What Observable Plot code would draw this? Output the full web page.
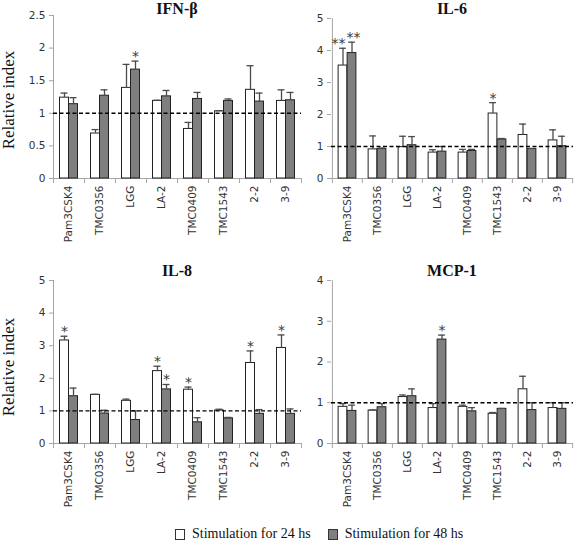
<!DOCTYPE html>
<html>
<head>
<meta charset="utf-8">
<script src="https://cdn.jsdelivr.net/npm/d3@7"></script>
<script src="https://cdn.jsdelivr.net/npm/@observablehq/plot@0.6"></script>
<style>
  body { margin: 0; background: #fff; }
  #root { position: relative; width: 578px; height: 541px; background: #fff; overflow: hidden; }
  .title { position: absolute; text-align: center; font-family: "Liberation Serif", serif; font-weight: bold; font-size: 16px; line-height: 16px; color: #111; }
  .ylab { position: absolute; width: 140px; text-align: center; font-family: "Liberation Serif", serif; font-size: 17px; line-height: 18px; color: #111; transform: rotate(-90deg); }
  .legend { position: absolute; left: 175px; top: 527px; display: flex; align-items: center; font-family: "Liberation Serif", serif; font-size: 14px; line-height: 14px; color: #111; }
  .legend .sw { width: 10px; height: 11px; border: 1px solid #333; box-sizing: border-box; margin-right: 7px; }
  .legend .item { display: flex; align-items: center; margin-right: 17px; }
</style>
</head>
<body>
<div id="root"></div>
<script>
// ---------- data ----------
const categories = ["Pam3CSK4", "TMC0356", "LGG", "LA-2", "TMC0409", "TMC1543", "2-2", "3-9"];
const seriesNames = ["Stimulation for 24 hs", "Stimulation for 48 hs"];
const panelTitles = ["IFN-β", "IL-6", "IL-8", "MCP-1"];

const ifnMean24 = [1.24, 0.69, 1.39, 1.19, 0.76, 1.03, 1.36, 1.19];
const ifnErr24  = [0.07, 0.06, 0.36, 0.01, 0.10, 0.01, 0.37, 0.17];
const ifnMean48 = [1.14, 1.27, 1.67, 1.26, 1.22, 1.19, 1.18, 1.20];
const ifnErr48  = [0.10, 0.09, 0.13, 0.09, 0.10, 0.03, 0.13, 0.12];
const ifnStar24 = ["", "", "", "", "", "", "", ""];
const ifnStar48 = ["", "", "*", "", "", "", "", ""];
const ifnTicks = [0, 0.5, 1, 1.5, 2, 2.5];

const il6Mean24 = [3.53, 0.91, 0.98, 0.81, 0.81, 2.03, 1.36, 1.19];
const il6Err24  = [0.54, 0.42, 0.34, 0.09, 0.10, 0.34, 0.34, 0.33];
const il6Mean48 = [3.92, 0.92, 1.04, 0.84, 0.86, 1.22, 0.92, 1.01];
const il6Err48  = [0.34, 0.03, 0.27, 0.16, 0.05, 0.03, 0.02, 0.31];
const il6Star24 = ["**", "", "", "", "", "*", "", ""];
const il6Star48 = ["**", "", "", "", "", "", "", ""];
const il6Ticks = [0, 1, 2, 3, 4, 5];

const il8Mean24 = [3.16, 1.49, 1.31, 2.22, 1.65, 1.01, 2.47, 2.93];
const il8Err24  = [0.13, 0.02, 0.05, 0.15, 0.08, 0.04, 0.37, 0.40];
const il8Mean48 = [1.45, 0.92, 0.72, 1.66, 0.65, 0.77, 0.91, 0.91];
const il8Err48  = [0.25, 0.10, 0.28, 0.15, 0.14, 0.03, 0.13, 0.15];
const il8Star24 = ["*", "", "", "*", "*", "", "*", "*"];
const il8Star48 = ["", "", "", "*", "", "", "", ""];
const il8Ticks = [0, 1, 2, 3, 4, 5];

const mcpMean24 = [0.90, 0.81, 1.14, 0.87, 0.90, 0.73, 1.33, 0.87];
const mcpErr24  = [0.08, 0.01, 0.05, 0.11, 0.04, 0.03, 0.32, 0.13];
const mcpMean48 = [0.80, 0.89, 1.16, 2.55, 0.79, 0.85, 0.82, 0.85];
const mcpErr48  = [0.14, 0.09, 0.18, 0.11, 0.09, 0.01, 0.18, 0.15];
const mcpStar24 = ["", "", "", "", "", "", "", ""];
const mcpStar48 = ["", "", "", "*", "", "", "", ""];
const mcpTicks = [0, 1, 2, 3, 4];

// ---------- drawing ----------
const root = document.getElementById("root");
const axisGray = "#a6a6a6";
const errColor = "#4a4a4a";

function makePanel(cfg) {
  const { m24, e24, m48, e48, s24, s48, ticks, left, top, width, height,
          marginLeft, marginRight, marginTop, marginBottom, title } = cfg;
  const rows24 = categories.map((c, i) => ({ cat: c, series: seriesNames[0], mean: m24[i], err: e24[i], star: s24[i] }));
  const rows48 = categories.map((c, i) => ({ cat: c, series: seriesNames[1], mean: m48[i], err: e48[i], star: s48[i] }));
  const yMax = ticks[ticks.length - 1];
  const bw = (width - marginLeft - marginRight) / categories.length;
  const half = bw / 2;
  const barW = 9;
  const capHalf = 3.5;
  const starStyle = { x: "cat", y: d => d.mean + d.err, text: "star", fontSize: 14, fill: "#3a3a3a", fontFamily: "DejaVu Sans", lineAnchor: "bottom", dy: 0 };

  const plot = Plot.plot({
    width, height, marginLeft, marginRight, marginTop, marginBottom,
    style: { fontFamily: "DejaVu Sans", fontSize: "10.5px", color: "#333", background: "transparent", overflow: "visible" },
    x: { domain: categories, padding: 0, label: null },
    y: { domain: [0, yMax], label: null },
    marks: [
      Plot.ruleY([0], { stroke: axisGray }),
      Plot.ruleX([categories[0]], { y1: 0, y2: yMax, dx: -half, stroke: axisGray }),
      Plot.ruleX(categories, { y1: 0, y2: 0, insetBottom: -5, dx: -half, stroke: axisGray }),
      Plot.ruleX([categories[categories.length - 1]], { y1: 0, y2: 0, insetBottom: -5, dx: half, stroke: axisGray }),
      Plot.barY(rows24, { x: "cat", y: "mean", fill: "#ffffff", stroke: "#222", strokeWidth: 1, insetLeft: half - barW, insetRight: half }),
      Plot.barY(rows48, { x: "cat", y: "mean", fill: "#7f7f7f", stroke: "#222", strokeWidth: 1, insetLeft: half, insetRight: half - barW }),
      Plot.ruleX(rows24, { x: "cat", y1: "mean", y2: d => d.mean + d.err, dx: -barW / 2, stroke: errColor, strokeWidth: 1.3 }),
      Plot.ruleX(rows48, { x: "cat", y1: "mean", y2: d => d.mean + d.err, dx: barW / 2, stroke: errColor, strokeWidth: 1.3 }),
      Plot.tickY(rows24, { x: "cat", y: d => d.mean + d.err, dx: -barW / 2, insetLeft: half - capHalf, insetRight: half - capHalf, stroke: errColor, strokeWidth: 1.3 }),
      Plot.tickY(rows48, { x: "cat", y: d => d.mean + d.err, dx: barW / 2, insetLeft: half - capHalf, insetRight: half - capHalf, stroke: errColor, strokeWidth: 1.3 }),
      Plot.ruleY([1], { stroke: "#000", strokeDasharray: "4,2.5", strokeWidth: 1.4 }),
      // single stars centred over their bar
      Plot.text(rows24.filter(d => d.star.length === 1), { ...starStyle, dx: -barW / 2 }),
      Plot.text(rows48.filter(d => d.star.length === 1), { ...starStyle, dx: barW / 2 }),
      // double stars pushed apart so that the two pairs do not collide
      Plot.text(rows24.filter(d => d.star.length > 1), { ...starStyle, textAnchor: "end", dx: -2 }),
      Plot.text(rows48.filter(d => d.star.length > 1), { ...starStyle, textAnchor: "start", dx: -1 }),
      Plot.axisX({ tickSize: 0, tickPadding: 7, tickRotate: -90, fill: "#333", label: null }),
      Plot.axisY({ ticks, tickFormat: d => String(d), tickSize: 4, tickPadding: 4, stroke: axisGray, fill: "#333", label: null })
    ]
  });
  plot.style.position = "absolute";
  plot.style.left = left + "px";
  plot.style.top = top + "px";
  root.appendChild(plot);

  const t = document.createElement("div");
  t.className = "title";
  t.textContent = title;
  t.style.left = (left + marginLeft) + "px";
  t.style.width = (width - marginLeft - marginRight) + "px";
  t.style.top = cfg.titleTop + "px";
  root.appendChild(t);
}

makePanel({ m24: ifnMean24, e24: ifnErr24, m48: ifnMean48, e48: ifnErr48, s24: ifnStar24, s48: ifnStar48, ticks: ifnTicks,
  left: 0, top: 0, width: 302, height: 250, marginLeft: 53, marginRight: 1, marginTop: 15, marginBottom: 72, title: panelTitles[0], titleTop: 1 });
makePanel({ m24: il6Mean24, e24: il6Err24, m48: il6Mean48, e48: il6Err48, s24: il6Star24, s48: il6Star48, ticks: il6Ticks,
  left: 289, top: 0, width: 289, height: 250, marginLeft: 42, marginRight: 5, marginTop: 18, marginBottom: 72, title: panelTitles[1], titleTop: 1 });
makePanel({ m24: il8Mean24, e24: il8Err24, m48: il8Mean48, e48: il8Err48, s24: il8Star24, s48: il8Star48, ticks: il8Ticks,
  left: 0, top: 250, width: 302, height: 250, marginLeft: 53, marginRight: 1, marginTop: 30, marginBottom: 57, title: panelTitles[2], titleTop: 263 });
makePanel({ m24: mcpMean24, e24: mcpErr24, m48: mcpMean48, e48: mcpErr48, s24: mcpStar24, s48: mcpStar48, ticks: mcpTicks,
  left: 289, top: 250, width: 289, height: 250, marginLeft: 42, marginRight: 5, marginTop: 30, marginBottom: 57, title: panelTitles[3], titleTop: 263 });

// y-axis labels
[[100], [367]].forEach(([cy]) => {
  const l = document.createElement("div");
  l.className = "ylab";
  l.textContent = "Relative index";
  l.style.left = (9 - 70) + "px";
  l.style.top = (cy - 9) + "px";
  root.appendChild(l);
});

// legend
const legend = document.createElement("div");
legend.className = "legend";
[["#ffffff"], ["#7f7f7f"]].forEach(([fill], i) => {
  const item = document.createElement("div");
  item.className = "item";
  const sw = document.createElement("div");
  sw.className = "sw";
  sw.style.background = fill;
  const tx = document.createElement("span");
  tx.textContent = seriesNames[i];
  item.appendChild(sw);
  item.appendChild(tx);
  legend.appendChild(item);
});
root.appendChild(legend);
</script>
</body>
</html>
